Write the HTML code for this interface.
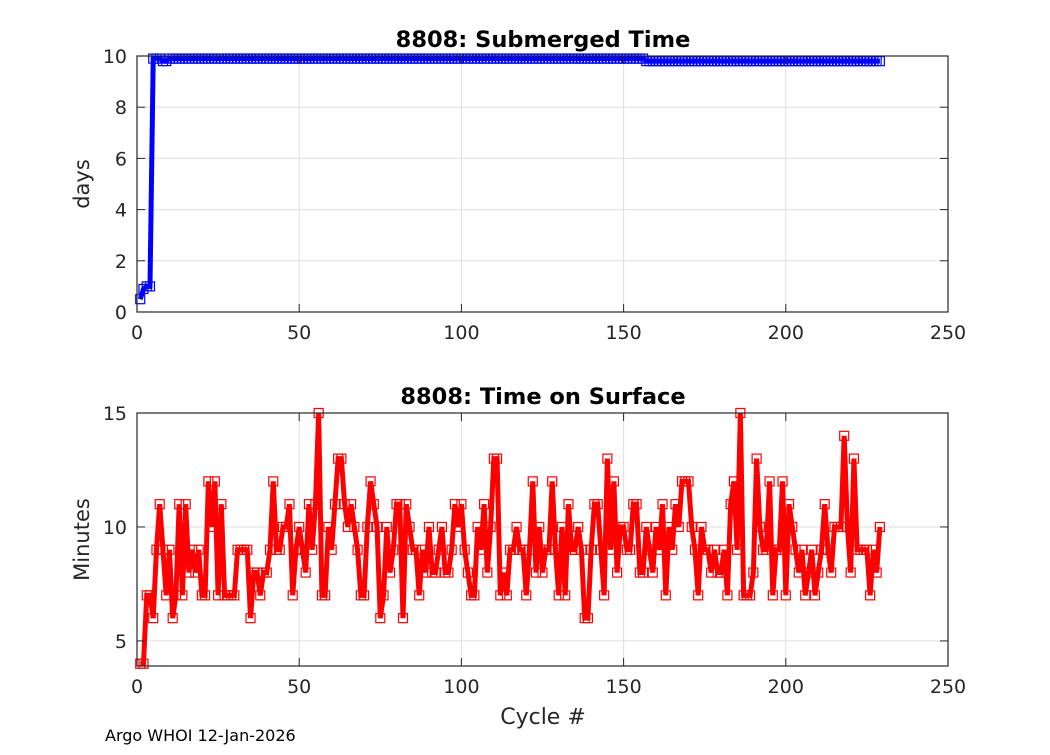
<!DOCTYPE html>
<html><head><meta charset="utf-8"><style>
body{margin:0;background:#fff;}
svg text{font-family:"DejaVu Sans","Liberation Sans",sans-serif;}
</style></head><body>
<svg id="fig" width="1050" height="750" xmlns="http://www.w3.org/2000/svg"></svg>
<script>
const submergedDays=[0.5,0.9,1.0,1.0,9.9,9.9,9.9,9.8,9.8,9.9,
9.9,9.9,9.9,9.9,9.9,9.9,9.9,9.9,9.9,9.9,9.9,9.9,9.9,9.9,9.9,9.9,9.9,9.9,9.9,9.9,
9.9,9.9,9.9,9.9,9.9,9.9,9.9,9.9,9.9,9.9,9.9,9.9,9.9,9.9,9.9,9.9,9.9,9.9,9.9,9.9,
9.9,9.9,9.9,9.9,9.9,9.9,9.9,9.9,9.9,9.9,9.9,9.9,9.9,9.9,9.9,9.9,9.9,9.9,9.9,9.9,
9.9,9.9,9.9,9.9,9.9,9.9,9.9,9.9,9.9,9.9,9.9,9.9,9.9,9.9,9.9,9.9,9.9,9.9,9.9,9.9,
9.9,9.9,9.9,9.9,9.9,9.9,9.9,9.9,9.9,9.9,9.9,9.9,9.9,9.9,9.9,9.9,9.9,9.9,9.9,9.9,
9.9,9.9,9.9,9.9,9.9,9.9,9.9,9.9,9.9,9.9,9.9,9.9,9.9,9.9,9.9,9.9,9.9,9.9,9.9,9.9,
9.9,9.9,9.9,9.9,9.9,9.9,9.9,9.9,9.9,9.9,9.9,9.9,9.9,9.9,9.9,9.9,
9.9,9.9,9.9,9.9,9.9,9.9,9.9,9.9,9.9,9.9,
9.8,9.8,9.8,9.8,9.8,9.8,9.8,9.8,9.8,9.8,9.8,9.8,9.8,9.8,9.8,9.8,9.8,9.8,9.8,9.8,
9.8,9.8,9.8,9.8,9.8,9.8,9.8,9.8,9.8,9.8,9.8,9.8,9.8,9.8,9.8,9.8,9.8,9.8,9.8,9.8,
9.8,9.8,9.8,9.8,9.8,9.8,9.8,9.8,9.8,9.8,9.8,9.8,9.8,9.8,9.8,9.8,9.8,9.8,9.8,9.8,
9.8,9.8,9.8,9.8,9.8,9.8,9.8,9.8,9.8,9.8,9.8,9.8,9.8];
const surfaceMinutes=[4,4,7,7,6,9,11,9,7,9,6,7,11,7,11,8,9,8,9,7,7,12,10,12,7,11,7,7,7,7,
9,9,9,9,6,8,8,7,8,8,9,12,9,9,10,10,11,7,9,10,9,8,11,9,11,15,7,7,10,9,11,13,13,11,10,11,10,9,7,7,
10,12,11,10,6,7,10,8,9,11,11,6,11,10,9,9,7,9,8,10,8,8,9,10,8,8,9,11,10,11,9,8,7,7,10,9,11,8,10,13,
13,7,8,7,9,9,10,9,9,7,9,12,8,10,8,9,9,12,9,7,10,7,11,9,9,10,9,6,6,9,11,11,9,7,13,9,12,8,10,10,
9,9,11,11,8,8,10,9,8,10,9,11,7,10,9,11,10,12,12,12,10,9,7,10,9,9,8,9,8,8,9,7,11,12,9,15,7,7,7,8,
13,10,9,9,12,7,9,9,12,7,11,10,9,8,9,7,8,9,7,8,9,11,9,8,10,10,10,14,10,8,13,9,9,9,9,7,9,8,10];
const xTicks=[0,50,100,150,200,250];
const topYTicks=[0,2,4,6,8,10];
const botYTicks=[5,10,15];

const NS="http://www.w3.org/2000/svg";
const svg=document.getElementById('fig');
function el(tag,attrs,parent){const e=document.createElementNS(NS,tag);for(const k in attrs)e.setAttribute(k,attrs[k]);(parent||svg).appendChild(e);return e;}
const X0=137,X1=948;
function xs(v){return X0+(v-0)/(250-0)*(X1-X0);}

function drawAxes(name,top,bot,ymin,ymax,yTicks,color,data,title,ylabel){
  const ys=v=>bot-(v-ymin)/(ymax-ymin)*(bot-top);
  const g=el('g',{});
  
  
  xTicks.forEach(t=>{const l=el('line',{x1:xs(t),x2:xs(t),y1:top,y2:bot,stroke:'#dfdfdf','stroke-width':1},g);
    });
  yTicks.forEach(t=>{const l=el('line',{x1:X0,x2:X1,y1:ys(t),y2:ys(t),stroke:'#dfdfdf','stroke-width':1},g);
    });
  let d='';data.forEach((v,i)=>{d+=(i?'L':'M')+xs(i+1).toFixed(2)+','+ys(v).toFixed(2);});
  const p=el('path',{d:d,fill:'none',stroke:color,'stroke-width':5,'stroke-linejoin':'miter','stroke-miterlimit':3},g);
  
  data.forEach((v,i)=>{const r=el('rect',{x:xs(i+1)-4.5,y:ys(v)-4.5,width:9,height:9,fill:'none',stroke:color,'stroke-width':1.2},g);
    });
  const b=el('rect',{x:X0,y:top,width:X1-X0,height:bot-top,fill:'none',stroke:'#262626','stroke-width':1.2},g);
  
  xTicks.forEach(t=>{
    el('line',{x1:xs(t),x2:xs(t),y1:bot,y2:bot-8,stroke:'#262626'},g);
    el('line',{x1:xs(t),x2:xs(t),y1:top,y2:top+8,stroke:'#262626'},g);
    const tx=el('text',{x:xs(t),y:bot+27,'font-size':19,'text-anchor':'middle',fill:'#262626'},g);tx.textContent=t;
    
  });
  yTicks.forEach(t=>{
    el('line',{x1:X0,x2:X0+8,y1:ys(t),y2:ys(t),stroke:'#262626'},g);
    el('line',{x1:X1,x2:X1-8,y1:ys(t),y2:ys(t),stroke:'#262626'},g);
    const tx=el('text',{x:X0-10,y:ys(t)+7,'font-size':19,'text-anchor':'end',fill:'#262626'},g);tx.textContent=t;
    
  });
  const tt=el('text',{x:543,y:top-9,'font-size':22.5,'font-weight':'bold','text-anchor':'middle',fill:'#000'},g);tt.textContent=title;
  
  const cy=(top+bot)/2;
  const yl=el('text',{x:89,y:cy,'font-size':21,'text-anchor':'middle',fill:'#262626',transform:'rotate(-90 89 '+cy+')'},g);yl.textContent=ylabel;
  
}
drawAxes('submerged-time-chart',56,312,0,10,topYTicks,'#0000ff',submergedDays,'8808: Submerged Time','days');
drawAxes('surface-time-chart',413,666,3.9,15,botYTicks,'#ff0000',surfaceMinutes,'8808: Time on Surface','Minutes');
const xl=el('text',{x:543,y:724,'font-size':22,'text-anchor':'middle',fill:'#262626'});xl.textContent='Cycle #';


const ft=el('text',{x:105,y:741,'font-size':16,fill:'#000'});ft.textContent='Argo WHOI 12-Jan-2026';


</script>
</body></html>
